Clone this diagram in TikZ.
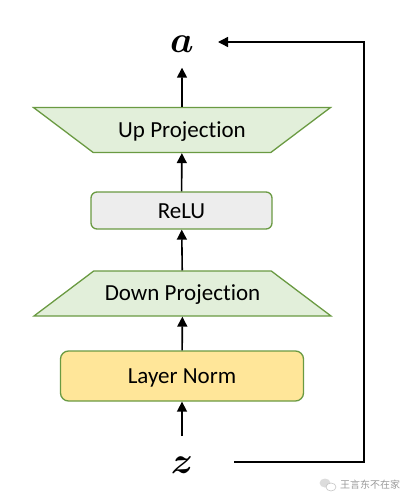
\documentclass[tikz,border=0pt]{standalone}
\usepackage{fontspec}
\usepackage{amsmath,amssymb,bm}
\setmainfont{Carlito}[Ligatures=NoCommon]
\newfontfamily\cjk{Noto Sans CJK SC}
\usetikzlibrary{calc,arrows.meta,shapes.geometric}
\definecolor{Edge}{HTML}{6A9A42}
\definecolor{ProjFill}{HTML}{E2EFDA}
\definecolor{ActFill}{HTML}{EDEDED}
\definecolor{NormFill}{HTML}{FFE699}
\definecolor{Mark}{HTML}{9A9A9A}
\tikzset{
  proj/.style={trapezium,trapezium left angle=37,trapezium right angle=37,
    trapezium stretches body=true,minimum width=297pt,
    inner xsep=0pt,inner ysep=11.5pt,text height=18pt,text depth=4pt,
    draw=Edge,fill=ProjFill,line width=1.3pt,font=\fontsize{23}{27}\selectfont},
  block/.style={rectangle,draw=Edge,line width=1.3pt,inner sep=0pt,
    text height=18pt,text depth=3pt,font=\fontsize{23}{27}\selectfont},
  flow/.style={-{Triangle[width=10pt,length=10pt]},line width=1.6pt},
  vec/.style={inner sep=0pt,font=\Huge}
}
\begin{document}
\begin{tikzpicture}[x=1pt,y=-1pt,every node/.style={text=black}]
  \useasboundingbox (0,0) rectangle (412,501);

  % Adapter stack, bottom to top.
  \node[vec,anchor=base] (z) at (182,473) {\scalebox{1.5}{$\bm{z}$}};
  \node[block,fill=NormFill,rounded corners=8pt,minimum width=243pt,minimum height=50pt]
    (norm) at (182,376) {Layer Norm};
  \node[proj] (down) at (182.5,293.5) {Down Projection};
  \node[block,fill=ActFill,rounded corners=6pt,minimum width=181pt,minimum height=37pt]
    (relu) at (181.5,210.5) {ReLU};
  \node[proj,shape border rotate=180] (up) at (182,130) {Up Projection};
  \node[vec,anchor=base] (a) at (182,52.5) {\scalebox{1.5}{$\bm{a}$}};

  \draw[flow,shorten <=20pt] (z) -- (norm);
  \draw[flow] (norm) -- (down);
  \draw[flow] (down) -- (relu);
  \draw[flow] (relu) -- (up);
  \draw[flow,shorten >=15pt] (up) -- (a);

  % Skip connection.
  \coordinate (zout) at (234,462);
  \coordinate (rail) at (364,42);
  \coordinate (ain) at (218,42);
  \draw[flow,line width=1.4pt] (zout) -| (rail) -- (ain);

  % Watermark.
  \fill[Mark!35] (325,483) ellipse (5.5 and 4.5);
  \fill[white] (331,487) ellipse (5 and 4);
  \draw[Mark!60,line width=.6pt] (331,487) ellipse (5 and 4);
  \node[anchor=west,text=Mark,inner sep=0pt,font=\cjk\fontsize{10}{10}\selectfont]
    (mark) at (340,485) {王言东不在家};
\end{tikzpicture}
\end{document}
